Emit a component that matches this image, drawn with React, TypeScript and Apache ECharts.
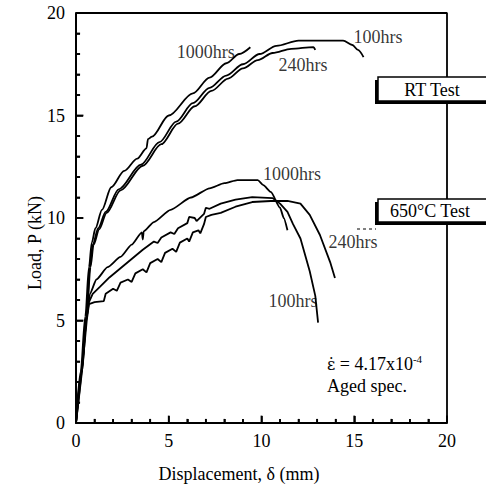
import React, { useEffect, useRef } from "react";
import * as echarts from "echarts";

type Pt = [number, number];

// Room-temperature tests
const rt1000: Pt[] = [[0,0],[0.25,2.5],[0.5,5.2],[0.7,7.6],[0.85,8.8],[1.05,9.5],[1.4,10.4],[1.9,11.5],[2.6,12.3],[3.3,12.9],[3.8,13.4],[3.88,13.85],[4.1,13.97],[5.0,15.0],[6.3,16.08],[7.2,16.85],[8.1,17.55],[8.8,18.0],[9.4,18.33]];
const rt100: Pt[] = [[0,0],[0.3,2.5],[0.55,5.2],[0.75,7.6],[0.9,8.7],[1.2,9.5],[1.6,10.3],[2.3,11.4],[3.5,12.6],[4.5,13.7],[5.4,14.7],[6.3,15.6],[7.2,16.35],[8.1,16.95],[9.0,17.5],[9.9,18.0],[10.8,18.4],[12.0,18.65],[14.4,18.65],[14.9,18.44],[15.2,18.2],[15.5,17.85]];
const rt240: Pt[] = [[0,0],[0.32,2.5],[0.58,5.2],[0.78,7.6],[0.95,8.7],[1.25,9.45],[1.65,10.25],[2.4,11.35],[3.6,12.55],[4.6,13.6],[5.5,14.6],[6.4,15.45],[7.3,16.2],[8.2,16.8],[9.0,17.3],[9.8,17.7],[10.6,18.05],[11.6,18.25],[12.8,18.34],[12.9,18.2]];

// 650°C tests
const ht1000: Pt[] = [[0,0],[0.3,2.5],[0.55,5],[0.75,6.3],[1.1,7.0],[1.7,7.6],[2.4,8.1],[3.0,8.7],[3.55,9.3],[3.6,8.95],[3.65,9.35],[4.2,9.8],[5.1,10.4],[6.2,11.0],[7.2,11.45],[8.0,11.7],[8.7,11.85],[9.8,11.85],[10.1,11.6],[10.5,11.27],[11.0,10.5],[11.2,10.0],[11.4,9.4]];
const ht100: Pt[] = [[0,0],[0.3,2.5],[0.55,5],[0.7,5.9],[0.9,6.3],[1.3,6.65],[1.8,7.1],[2.4,7.55],[3.0,8.0],[3.6,8.45],[4.2,8.85],[4.4,8.78],[4.6,9.05],[5.1,9.3],[5.3,9.22],[5.5,9.5],[6.0,9.75],[6.1,10.05],[6.4,10.0],[6.5,9.85],[6.9,10.2],[7.0,10.5],[7.2,10.45],[7.8,10.7],[8.6,10.9],[9.5,11.02],[10.6,10.97],[11.0,10.7],[11.4,10.3],[11.7,9.7],[12.1,9.0],[12.6,7.4],[12.9,6.2],[13.05,4.9]];
const ht240: Pt[] = [[0,0],[0.32,2.5],[0.58,5],[0.7,5.8],[1.0,5.9],[1.5,5.95],[1.6,6.3],[2.0,6.55],[2.2,6.45],[2.4,6.85],[2.8,7.0],[3.0,6.88],[3.2,7.3],[3.6,7.5],[3.8,7.35],[4.0,7.8],[4.4,8.0],[4.6,7.85],[4.8,8.3],[5.2,8.5],[5.4,8.35],[5.6,8.8],[6.0,9.0],[6.1,8.85],[6.3,9.3],[6.6,9.4],[6.7,9.25],[6.9,9.7],[7.0,10.05],[7.3,10.15],[7.8,10.25],[8.6,10.55],[9.5,10.78],[10.5,10.83],[11.4,10.83],[12.1,10.7],[12.6,10.15],[13.15,9.17],[13.7,7.85],[13.96,7.07]];

const curveLabels: { text: string; x: number; y: number }[] = [
  { text: "1000hrs", x: 7.0, y: 18.1 },
  { text: "100hrs", x: 16.28, y: 18.83 },
  { text: "240hrs", x: 12.24, y: 17.46 },
  { text: "1000hrs", x: 11.64, y: 12.15 },
  { text: "240hrs", x: 14.93, y: 8.83 },
  { text: "100hrs", x: 11.7, y: 5.95 },
];

const xMin = 0, xMax = 20, xStep = 5;
const yMin = 0, yMax = 20, yStep = 5;
const minorStep = 1;
// inward tick lengths, in axis units (major, minor)
const xTickLen = [0.36, 0.2];
const yTickLen = [0.4, 0.22];

const FONT = "'Liberation Serif', 'Times New Roman', serif";

export default function App() {
  const ref = useRef<HTMLDivElement>(null);
  useEffect(() => {
    const chart = echarts.init(ref.current!, null, { renderer: "svg" });
    const line = (name: string, data: Pt[], smooth: number | boolean) => ({
      type: "line",
      name,
      data,
      symbol: "none",
      showSymbol: false,
      smooth,
      smoothMonotone: "x",
      silent: true,
      clip: false,
      lineStyle: { color: "#000", width: 1.8 },
      z: 3,
    });
    // tick marks as short segments, in data coordinates
    const tickSegs: Pt[][] = [];
    for (let v = xMin; v <= xMax; v += minorStep) {
      const len = v % xStep === 0 ? xTickLen[0] : xTickLen[1];
      tickSegs.push([[v, yMin], [v, yMin + len]]);
    }
    for (let v = yMin; v <= yMax; v += minorStep) {
      const len = v % yStep === 0 ? yTickLen[0] : yTickLen[1];
      tickSegs.push([[xMin, v], [xMin + len, v]]);
    }
    const frame: Pt[] = [[xMin, yMax], [xMax, yMax], [xMax, yMin]];

    const axisCommon = {
      type: "value",
      axisLine: { show: true, lineStyle: { color: "#000", width: 2 } },
      axisTick: { show: true, inside: true, length: 7, lineStyle: { color: "#000", width: 1.5 } },
      minorTick: { show: true, splitNumber: 5, length: 4, lineStyle: { color: "#000", width: 1.5 } },
      splitLine: { show: false },
      axisLabel: { color: "#000", fontFamily: FONT, fontSize: 18 },
    };
    const txt = (text: string, x: number, y: number, size: number, extra: any = {}) => ({
      type: "text",
      x,
      y,
      z: 20,
      ...extra,
      style: {
        text,
        fill: "#000",
        font: `${size}px ${FONT}`,
        textAlign: "left",
        textVerticalAlign: "middle",
        ...(extra.style || {}),
      },
    });
    chart.setOption({
      animation: false,
      grid: { left: 76, right: 39, top: 13, bottom: 69 },
      xAxis: { ...axisCommon, min: xMin, max: xMax, interval: xStep, axisLabel: { ...axisCommon.axisLabel, margin: 9 } },
      yAxis: { ...axisCommon, min: yMin, max: yMax, interval: yStep, axisLabel: { ...axisCommon.axisLabel, margin: 11 } },
      series: [
        line("RT 1000hrs", rt1000, 0.3),
        line("RT 100hrs", rt100, 0.3),
        line("RT 240hrs", rt240, 0.3),
        line("650 1000hrs", ht1000, 0.2),
        line("650 100hrs", ht100, false),
        line("650 240hrs", ht240, false),
        line("frame", frame, false),
        ...tickSegs.map((s, i) => line("tick" + i, s, false)),
        {
          type: "scatter",
          silent: true,
          symbolSize: 0,
          data: curveLabels.map((l) => ({ value: [l.x, l.y], name: l.text })),
          label: {
            show: true,
            position: "inside",
            formatter: (p: any) => p.name,
            color: "#000",
            fontFamily: FONT,
            fontSize: 18,
          },
          z: 5,
        },
      ],
      graphic: [
        { type: "rect", z: 10, shape: { x: 375, y: 80, width: 115, height: 24 }, style: { fill: "#000" } },
        { type: "rect", z: 11, shape: { x: 378, y: 77, width: 115, height: 24 }, style: { fill: "#fff", stroke: "#000", lineWidth: 1.5 } },
        txt("RT Test", 432, 90, 18, { style: { textAlign: "center" } }),
        { type: "rect", z: 10, shape: { x: 375, y: 202, width: 115, height: 23 }, style: { fill: "#000" } },
        { type: "rect", z: 11, shape: { x: 378, y: 199, width: 115, height: 23 }, style: { fill: "#fff", stroke: "#000", lineWidth: 1.5 } },
        txt("650°C Test", 430, 211, 18, { style: { textAlign: "center" } }),
        { type: "line", z: 9, shape: { x1: 357, y1: 229, x2: 376, y2: 229 }, style: { stroke: "#000", lineWidth: 1, lineDash: [3, 3] } },
        {
          type: "text",
          x: 327,
          y: 364,
          z: 20,
          style: {
            text: "{e|ε̇}{a| = 4.17x10}{b|-4}",
            textVerticalAlign: "middle",
            rich: {
              e: { fontFamily: "'DejaVu Serif', serif", fontSize: 16, color: "#000", lineHeight: 22 },
              a: { fontFamily: FONT, fontSize: 18, color: "#000", lineHeight: 22 },
              b: { fontFamily: FONT, fontSize: 11, color: "#000", lineHeight: 22, verticalAlign: "top" },
            },
          },
        },
        txt("Aged spec.", 327, 386, 18),
        txt("Displacement, δ (mm)", 239, 474, 18, { style: { textAlign: "center" } }),
        txt("Load, P (kN)", 35, 243, 18, { rotation: Math.PI / 2, style: { textAlign: "center" } }),
      ],
    });
    return () => chart.dispose();
  }, []);
  return <div ref={ref} style={{ position: "fixed", left: 0, top: 0, width: 486, height: 492, background: "#fff" }} />;
}
